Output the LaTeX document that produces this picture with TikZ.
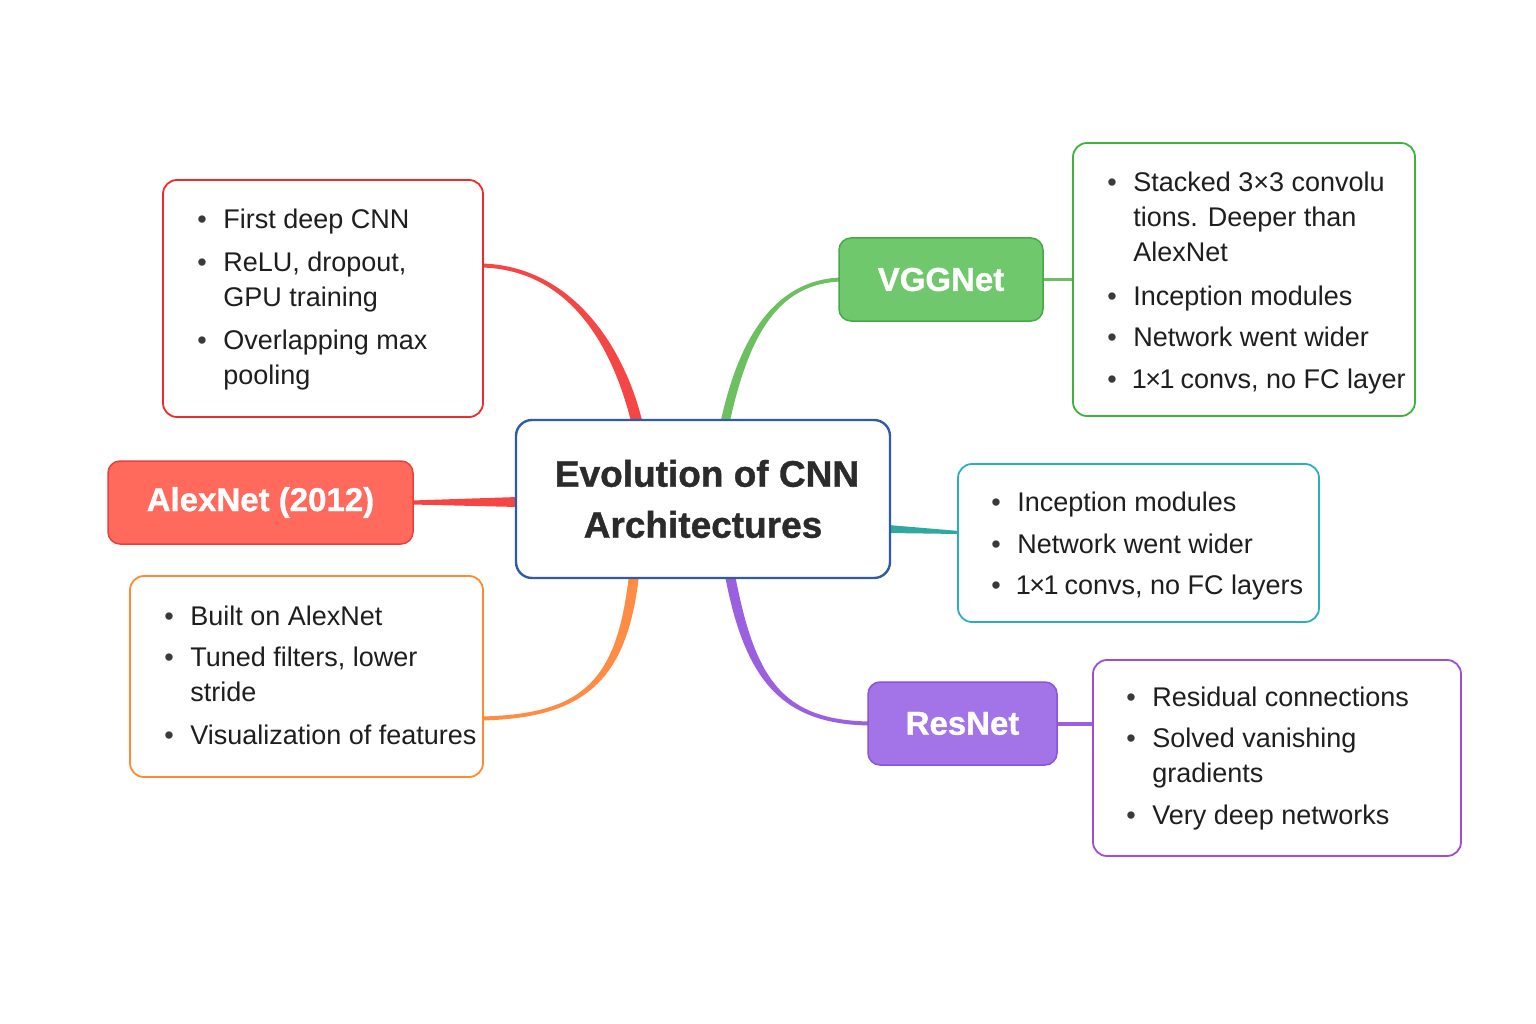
\documentclass[tikz,border=0pt]{standalone}
\usepackage{fontspec}
\setmainfont{Liberation Sans}
\usetikzlibrary{calc,backgrounds}

\definecolor{txt}{HTML}{1E1E1E}
\definecolor{dot}{HTML}{3A3A3A}
\definecolor{hubline}{HTML}{2F5BA8}
\definecolor{hubtxt}{HTML}{2B2B2B}
\definecolor{redline}{HTML}{EE2B2B}
\definecolor{redwire}{HTML}{F54646}
\definecolor{alexfill}{HTML}{FF6A5C}
\definecolor{alexdraw}{HTML}{E8403A}
\definecolor{orline}{HTML}{FF8A33}
\definecolor{orwire}{HTML}{FF8C45}
\definecolor{grline}{HTML}{3DB33D}
\definecolor{grwire}{HTML}{6CC060}
\definecolor{vggfill}{HTML}{6FC96C}
\definecolor{vggdraw}{HTML}{45AA45}
\definecolor{tlline}{HTML}{2BAEC2}
\definecolor{tlwire}{HTML}{2FA8A0}
\definecolor{puline}{HTML}{9B4DDB}
\definecolor{puwire}{HTML}{9B60E0}
\definecolor{resfill}{HTML}{A373E8}
\definecolor{resdraw}{HTML}{8C52D8}

% bullet marker and hanging indent for list lines
\newcommand\blt{\makebox[26pt][l]{\textcolor{dot}{\textbullet}}}
\newcommand\cont{\hspace*{26pt}}
\newcommand\firstline{\rule{0pt}{20pt}}
% narrow figure one
\newcommand\one{\kern-1.5pt 1\kern-1.5pt}

% tapered curved band: colour, start, control 1, control 2, end, half width at start, half width at end
\newcommand\taperband[7]{%
  \path ($(#2)!#6!90:(#3)$) coordinate (tb-a1)
        ($(#2)!#6!-90:(#3)$) coordinate (tb-a2)
        ($(#5)!#7!-90:(#4)$) coordinate (tb-b1)
        ($(#5)!#7!90:(#4)$) coordinate (tb-b2);
  \fill[#1] (tb-a1) .. controls ($(#3)+(tb-a1)-(#2)$) and ($(#4)+(tb-b1)-(#5)$) .. (tb-b1)
     -- (tb-b2) .. controls ($(#4)+(tb-b2)-(#5)$) and ($(#3)+(tb-a2)-(#2)$) .. (tb-a2) -- cycle;}
% tapered straight wedge: colour, start, end, half width at start, half width at end
\newcommand\taperline[5]{%
  \path ($(#2)!#4!90:(#3)$) coordinate (tb-a1)
        ($(#2)!#4!-90:(#3)$) coordinate (tb-a2)
        ($(#3)!#5!-90:(#2)$) coordinate (tb-b1)
        ($(#3)!#5!90:(#2)$) coordinate (tb-b2);
  \fill[#1] (tb-a1) -- (tb-b1) -- (tb-b2) -- (tb-a2) -- cycle;}

\tikzset{
  hubbox/.style={draw=hubline, line width=2.4pt, rounded corners=16pt, fill=white,
    minimum width=374pt, minimum height=158pt, inner sep=0pt, align=center,
    text=hubtxt, font=\fontsize{37}{51}\selectfont\bfseries\addfontfeatures{FakeBold=1}},
  titlebox/.style={line width=1.5pt, rounded corners=12pt, minimum height=83pt,
    inner sep=0pt, text=white, font=\fontsize{33}{40}\selectfont\bfseries\addfontfeatures{FakeBold=1}},
  detailbox/.style={draw=#1, line width=1.8pt, rounded corners=14pt, fill=white, inner sep=0pt},
  bullets/.style={anchor=north west, inner sep=0pt, align=left, text=txt,
    font=\fontsize{27}{35}\selectfont},
}

\begin{document}
\begin{tikzpicture}[x=1pt,y=-1pt]
\path[use as bounding box] (0,0) rectangle (1536,1024);

% central topic
\node[hubbox] (hub) at (703,499) {\hspace*{8pt}Evolution of CNN\\Architectures};

% branch titles
\node[titlebox, fill=alexfill, draw=alexdraw, minimum width=305pt] (alex) at (260.5,502.5) {AlexNet (2012)};
\node[titlebox, fill=vggfill, draw=vggdraw, minimum width=204pt] (vgg) at (941,279.5) {VGGNet};
\node[titlebox, fill=resfill, draw=resdraw, minimum width=189pt] (res) at (962.5,723.5) {ResNet};

% detail boxes
\node[detailbox=redline, minimum width=320pt, minimum height=237pt] (redbox) at (323,298.5) {};
\node[detailbox=orline, minimum width=353pt, minimum height=201pt] (orbox) at (306.5,676.5) {};
\node[detailbox=grline, minimum width=342pt, minimum height=273pt] (grbox) at (1244,279.5) {};
\node[detailbox=tlline, minimum width=361pt, minimum height=158pt] (tlbox) at (1138.5,543) {};
\node[detailbox=puline, minimum width=368pt, minimum height=196pt] (pubox) at (1277,758) {};

% bullet lists
\node[bullets] (redlist) at ($(redbox.north west)+(35,29)$) {%
  \blt\firstline First deep CNN\\[8pt]
  \blt ReLU, dropout,\\
  \cont GPU training\\[8pt]
  \blt Overlapping max\\
  \cont pooling};
\node[bullets] (orlist) at ($(orbox.north west)+(35,30)$) {%
  \blt\firstline Built on AlexNet\\[6pt]
  \blt Tuned filters, lower\\
  \cont stride\\[8pt]
  \blt Visualization of features};
\node[bullets] (grlist) at ($(grbox.north west)+(35,29)$) {%
  \blt\firstline Stacked 3×3 convolu\\
  \cont tions. Deeper than\\
  \cont AlexNet\\[9pt]
  \blt Inception modules\\[6pt]
  \blt Network went wider\\[7pt]
  \blt \one×\one\ convs, no FC layer};
\node[bullets] (tllist) at ($(tlbox.north west)+(34,28)$) {%
  \blt\firstline Inception modules\\[7pt]
  \blt Network went wider\\[6pt]
  \blt \one×\one\ convs, no FC layers};
\node[bullets] (pulist) at ($(pubox.north west)+(34,27)$) {%
  \blt\firstline Residual connections\\[6pt]
  \blt Solved vanishing\\
  \cont gradients\\[7pt]
  \blt Very deep networks};

% connector end points
\coordinate (r1) at ($(redbox.east)+(-2,-33)$);
\coordinate (r2) at ($(hub.north)+(-66,4)$);
\coordinate (g1) at ($(hub.north)+(22,4)$);
\coordinate (g2) at ($(vgg.west)+(2,0)$);
\coordinate (a1) at ($(alex.east)+(-2,0)$);
\coordinate (a2) at ($(hub.west)+(3,3)$);
\coordinate (t1) at ($(hub.east)+(-3,30)$);
\coordinate (t2) at ($(tlbox.west)+(2,-10.5)$);
\coordinate (o1) at ($(hub.south)+(-69,-4)$);
\coordinate (o2) at ($(orbox.east)+(-2,42)$);
\coordinate (p1) at ($(hub.south)+(27,-4)$);
\coordinate (p2) at ($(res.west)+(2,0)$);

\begin{scope}[on background layer]
  \taperband{redwire}{r1}{570,268}{618,345}{r2}{2pt}{5.5pt}
  \taperband{grwire}{g1}{745,330}{780,282}{g2}{4.5pt}{2pt}
  \taperline{redwire}{a1}{a2}{2pt}{5pt}
  \taperline{tlwire}{t1}{t2}{4pt}{1.5pt}
  \taperband{orwire}{o1}{622,680}{585,716}{o2}{5pt}{2pt}
  \taperband{puwire}{p1}{750,680}{782,722}{p2}{5pt}{2pt}
  \draw[grwire, line width=3.5pt] (vgg) -- (grbox);
  \draw[puwire, line width=4pt] (res.east) -- (res.east -| pubox.west);
\end{scope}
\end{tikzpicture}
\end{document}
